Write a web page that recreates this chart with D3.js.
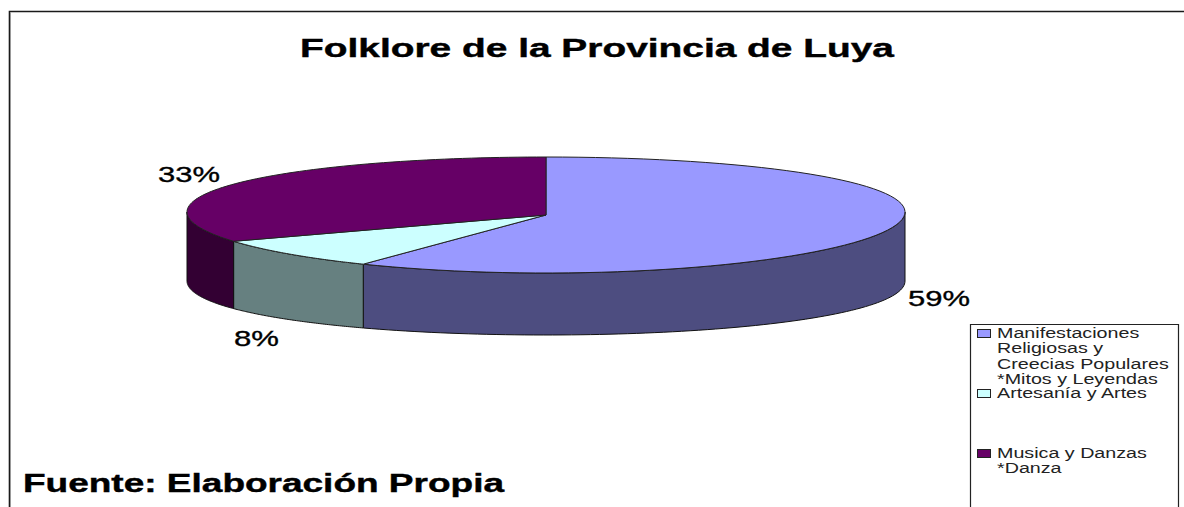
<!DOCTYPE html>
<html><head><meta charset="utf-8">
<script src="https://cdn.jsdelivr.net/npm/d3@7"></script>
<style>html,body{margin:0;padding:0;background:#fff;overflow:hidden}svg{display:block}text{font-family:"Liberation Sans",Arial,sans-serif}</style>
</head><body><svg id="c" width="1184" height="507"></svg>
<script>
const categories=["Manifestaciones Religiosas y Creecias Populares *Mitos y Leyendas","Artesanía y Artes","Musica y Danzas *Danza"];
const values=[58.5,8.3,33.2];
const topColors=["#9999ff","#ccffff","#660066"];
const sideColors=["#4d4d80","#668080","#330033"];
const legendLines=[["Manifestaciones","Religiosas y","Creecias Populares","*Mitos y Leyendas"],["Artesanía y Artes"],["Musica y Danzas","*Danza"]];
const title="Folklore de la Provincia de Luya";
const source="Fuente: Elaboración Propia";

const svg=d3.select("#c");
const cx=546,cy=215,rx=359,ry=58,depth=62;
// chart frame
svg.append("path").attr("d","M9.5,507V11.5H1184").attr("fill","none").attr("stroke","#1a1a1a").attr("stroke-width",1.6);
svg.append("line").attr("x1",10.5).attr("x2",10.5).attr("y1",12).attr("y2",507).attr("stroke","#999");

const arcs=d3.pie().sort(null)(values);
// slight perspective: the widest point of the disc sits above its centre and the walls look taller at the sides
const px=a=>cx+rx*Math.sin(a), py=a=>cy-ry*Math.cos(a)-3*Math.sin(a)**2;
const wall=a=>depth+7*Math.sin(a)**2;
const angles=(a0,a1)=>{const n=80,s=d3.scaleLinear().domain([0,n]).range([a0,a1]);return d3.range(n+1).map(i=>s(i));};
const ellipse=(a0,a1)=>angles(a0,a1).map(a=>[px(a),py(a)]);
const line=d3.line();
// outer walls of visible front half (angles pi/2 .. 3pi/2)
arcs.forEach((d,i)=>{
  const a0=Math.max(d.startAngle,Math.PI/2),a1=Math.min(d.endAngle,1.5*Math.PI);
  if(a1<=a0)return;
  const as=angles(a0,a1);
  const top=as.map(a=>[px(a),py(a)]),bot=as.map(a=>[px(a),py(a)+wall(a)]).reverse();
  svg.append("path").attr("d",line(top.concat(bot))+"Z").attr("fill",sideColors[i]).attr("stroke","#111").attr("stroke-width",1).attr("stroke-linejoin","round");
});
// top faces
arcs.forEach((d,i)=>{
  svg.append("path").attr("d",line([[cx,cy]].concat(ellipse(d.startAngle,d.endAngle)))+"Z").attr("fill",topColors[i]).attr("stroke","#222").attr("stroke-width",1).attr("stroke-linejoin","round");
});
// percentage labels
const labelPos=[[908,306],[234,346],[158,182]];
const labelWidth=[62,45,62];
arcs.forEach((d,i)=>{
  svg.append("text").attr("x",labelPos[i][0]).attr("y",labelPos[i][1]).attr("font-size",22.5).attr("fill","#000").attr("stroke","#000").attr("stroke-width",0.35).attr("textLength",labelWidth[i]).attr("lengthAdjust","spacingAndGlyphs").text(Math.round(d.value)+"%");
});
// title
svg.append("text").attr("x",300).attr("y",57).attr("font-size",26).attr("font-weight","bold").attr("stroke","#000").attr("stroke-width",0.4).attr("textLength",594).attr("lengthAdjust","spacingAndGlyphs").text(title);
svg.append("text").attr("x",23).attr("y",492).attr("font-size",25).attr("font-weight","bold").attr("stroke","#000").attr("stroke-width",0.4).attr("textLength",481).attr("lengthAdjust","spacingAndGlyphs").text(source);
// legend
svg.append("path").attr("d","M970.5,507V324.5H1178.5V507").attr("fill","#fff").attr("stroke","#222").attr("stroke-width",1.2);
const rowY=[333,393,453],lh=15.3,legendStretch=1.27;
legendLines.forEach((ls,i)=>{
  svg.append("rect").attr("x",977.5).attr("y",rowY[i]-3.5).attr("width",13).attr("height",8).attr("fill",topColors[i]).attr("stroke","#222").attr("stroke-width",1);
  ls.forEach((t,j)=>{
    const el=svg.append("text").attr("x",997).attr("y",rowY[i]+5+j*lh).attr("font-size",15.5).attr("fill","#222").text(t);
    el.attr("textLength",el.node().getComputedTextLength()*legendStretch).attr("lengthAdjust","spacingAndGlyphs");
  });
});
</script></body></html>
